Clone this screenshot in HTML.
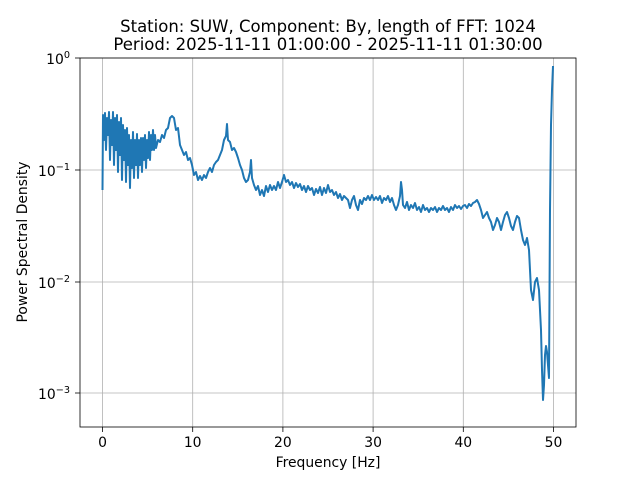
<!DOCTYPE html>
<html><head><style>body{margin:0;background:#fff}</style></head><body>
<svg width="640" height="480" xmlns="http://www.w3.org/2000/svg" font-family="'DejaVu Sans','Liberation Sans',sans-serif">
<rect width="640" height="480" fill="#fff"/>
<g stroke="#b0b0b0" stroke-width="0.8">
<line x1="102.5" y1="58" x2="102.5" y2="427"/><line x1="192.7" y1="58" x2="192.7" y2="427"/><line x1="282.9" y1="58" x2="282.9" y2="427"/><line x1="373.1" y1="58" x2="373.1" y2="427"/><line x1="463.3" y1="58" x2="463.3" y2="427"/><line x1="553.5" y1="58" x2="553.5" y2="427"/>
<line x1="80" y1="58" x2="576" y2="58"/><line x1="80" y1="170" x2="576" y2="170"/><line x1="80" y1="282" x2="576" y2="282"/><line x1="80" y1="393" x2="576" y2="393"/>
</g>
<path fill="none" stroke="#1f77b4" stroke-width="2" stroke-linejoin="round" d="M102.5,190 L103,115 L104,140 L105,113 L106,150 L107,118 L108,135 L109,112 L110,160 L111,120 L112,145 L113,112 L114,165 L115,118 L116,150 L117,115 L118,172 L119,122 L120,155 L121,118 L122,180 L123,125 L124,160 L125,130 L126,182 L127,128 L128,165 L129,135 L130,188 L131,140 L132,168 L133,132 L134,178 L135,140 L136,165 L137,134 L138,178 L139,140 L140,165 L141,138 L142,172 L143,138 L144,160 L145,135 L146,168 L147,140 L148,158 L149,132 L150,160 L151,135 L152,150 L153,130 L154,150 L155,135 L156,148 L158,140 L160,142 L162,135 L164,138 L166,130 L168,128 L170,118 L172,116 L174,118 L176,130 L178,128 L180,145 L182,150 L184,155 L186,152 L188,160 L190,158 L192,165 L194,175 L196,172 L198,180 L200,176 L202,180 L204,175 L206,178 L208,172 L210,168 L212,172 L214,165 L216,162 L218,160 L220,155 L222,150 L224,140 L226,136 L227,124 L228,140 L230,142 L232,150 L234,148 L236,152 L238,158 L240,165 L242,170 L244,178 L246,182 L248,180 L250,172 L251,160 L252,178 L254,185 L256,190 L258,186 L260,195 L262,190 L264,196 L266,186 L268,192 L270,185 L272,190 L274,186 L276,190 L278,182 L280,188 L282,182 L284,175 L286,182 L288,180 L290,185 L292,182 L294,188 L296,183 L298,187 L300,184 L302,190 L304,186 L306,192 L308,186 L310,190 L312,188 L314,195 L316,189 L318,193 L320,187 L322,195 L324,188 L326,193 L328,185 L330,192 L332,190 L334,195 L336,192 L338,198 L340,194 L342,200 L344,196 L346,198 L348,200 L350,208 L352,200 L354,196 L356,205 L358,210 L360,200 L362,204 L364,198 L366,200 L368,196 L370,200 L372,195 L374,200 L376,197 L378,200 L380,196 L382,203 L384,198 L386,200 L388,196 L390,202 L392,198 L394,205 L396,210 L398,205 L400,196 L401,182 L402,190 L403,205 L405,208 L407,202 L409,210 L411,205 L413,208 L415,203 L417,210 L419,207 L421,212 L423,205 L425,210 L427,208 L429,212 L431,208 L433,210 L435,207 L437,212 L439,208 L441,210 L443,206 L445,210 L447,208 L449,212 L451,207 L453,210 L455,205 L457,208 L459,206 L461,209 L463,206 L465,205 L467,208 L469,204 L471,206 L473,203 L475,202 L477,200 L479,204 L481,210 L483,218 L485,215 L487,212 L489,218 L491,222 L493,230 L495,225 L497,218 L499,222 L501,230 L503,222 L505,215 L507,212 L509,218 L511,226 L513,230 L515,222 L517,216 L519,218 L521,230 L523,240 L525,245 L527,238 L529,250 L531,290 L533,300 L535,282 L537,278 L539,290 L541,330 L542,370 L543,400 L544,385 L545,355 L546,346 L547,352 L548,365 L549,378 L550,210 L551,125 L552,90 L553,66"/>
<rect x="80" y="58" width="496" height="369" fill="none" stroke="#000" stroke-width="0.8"/>
<g stroke="#000" stroke-width="0.8">
<line x1="102.5" y1="427" x2="102.5" y2="432"/><line x1="192.7" y1="427" x2="192.7" y2="432"/><line x1="282.9" y1="427" x2="282.9" y2="432"/><line x1="373.1" y1="427" x2="373.1" y2="432"/><line x1="463.3" y1="427" x2="463.3" y2="432"/><line x1="553.5" y1="427" x2="553.5" y2="432"/>
<line x1="75" y1="58" x2="80" y2="58"/><line x1="75" y1="170" x2="80" y2="170"/><line x1="75" y1="282" x2="80" y2="282"/><line x1="75" y1="393" x2="80" y2="393"/>
</g>
<g font-size="13.9" text-anchor="middle" fill="#000">
<text x="102.5" y="447">0</text><text x="192.7" y="447">10</text><text x="282.9" y="447">20</text><text x="373.1" y="447">30</text><text x="463.3" y="447">40</text><text x="553.5" y="447">50</text>
</g>
<g font-size="13.9" text-anchor="end" fill="#000">
<text x="70" y="64">10<tspan font-size="9.7" dy="-6">0</tspan></text>
<text x="70" y="176">10<tspan font-size="9.7" dy="-6">−1</tspan></text>
<text x="70" y="288">10<tspan font-size="9.7" dy="-6">−2</tspan></text>
<text x="70" y="399">10<tspan font-size="9.7" dy="-6">−3</tspan></text>
</g>
<text x="328" y="467" font-size="13.9" text-anchor="middle">Frequency [Hz]</text>
<text x="27" y="242" font-size="13.9" text-anchor="middle" transform="rotate(-90 27 242)">Power Spectral Density</text>
<text x="328" y="32" font-size="16.5" text-anchor="middle">Station: SUW, Component: By, length of FFT: 1024</text>
<text x="328" y="50" font-size="16.5" text-anchor="middle">Period: 2025-11-11 01:00:00 - 2025-11-11 01:30:00</text>
</svg>
</body></html>
